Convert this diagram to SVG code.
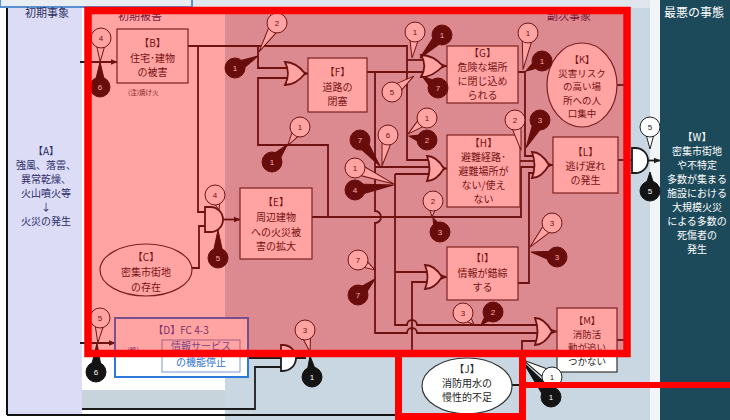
<svg xmlns="http://www.w3.org/2000/svg" width="730" height="420" viewBox="0 0 730 420">
<defs>
<marker id="ah" viewBox="0 0 10 10" refX="9" refY="5" markerWidth="4" markerHeight="4" orient="auto"><path d="M0,1L10,5L0,9Z" fill="#1c1c1c"/></marker>
<style>
.ln{fill:none;stroke:#1c1c1c;stroke-width:1.8}
.ar{marker-end:url(#ah)}
.bx{fill:#fff;stroke:#333;stroke-width:1.2}
.gt{fill:#fff;stroke:#1c1c1c;stroke-width:1.8}
.t{font-family:"Noto Sans CJK JP","Noto Sans CJK SC",sans-serif;font-size:10px;fill:#1e1e1e;text-anchor:middle}
.s{font-size:9.5px}
.na{fill:#2a2a66}
.hd{font-family:"Noto Sans CJK JP",sans-serif;font-size:11px;fill:#2c2c5c;text-anchor:middle}
.wt{font-family:"Noto Sans CJK JP",sans-serif;font-size:10px;fill:#ffffff;text-anchor:middle}
.wb path,.wb circle{fill:#fff;stroke:#222;stroke-width:1}
.bb path,.bb circle{fill:#141414;stroke:#141414;stroke-width:1}
.wb text,.bb text{font-family:"Liberation Sans",sans-serif;font-size:8px;text-anchor:middle;fill:#222}
.bb text{fill:#fff}
</style>
</defs>
<!-- background -->
<rect width="730" height="420" fill="#ffffff"/>
<rect x="192" y="0" width="468" height="8" fill="#dfe6ee"/>
<rect x="225" y="8" width="425" height="412" fill="#c8d7e1"/>
<rect x="82" y="390" width="143" height="18" fill="#c8d4dc"/>
<rect x="650" y="0" width="10" height="420" fill="#f2f5f8"/>
<rect x="660" y="0" width="70" height="420" fill="#1d4a5b"/>
<rect x="8" y="8" width="74" height="407" fill="#dcdcf7"/>
<line x1="7" y1="8" x2="7" y2="415" stroke="#111" stroke-width="2"/>
<line x1="7" y1="415" x2="398" y2="415" stroke="#111" stroke-width="2"/>
<rect x="0" y="-1" width="192" height="8" fill="#e9eef5" stroke="#5a8fd0" stroke-width="2"/>

<text class="hd" x="47" y="17">初期事象</text>
<text class="hd" x="140" y="20">初期被害</text>
<text class="hd" x="569" y="20">副次事象</text>
<text x="664" y="17" font-family="Noto Sans CJK JP,sans-serif" font-size="12" fill="#ffffff">最悪の事態</text>

<!-- connectors -->
<g id="connectors">
<path class="ln ar" d="M80,62H117"/>
<path class="ln ar" d="M80,343H115"/>
<path class="ln" d="M82,409H255V367H283"/>
<path class="ln" d="M248,358H283"/>
<path class="ln" d="M296,358H305V353H412V282H428"/>
<path class="ln" d="M188,46H407V160H430"/>
<path class="ln" d="M198,46V212H207"/>
<path class="ln" d="M258,46V68H288"/>
<path class="ln" d="M407,60H424"/>
<path class="ln" d="M192,268H199V226H207"/>
<path class="ln ar" d="M223,219.5H240"/>
<path class="ln" d="M312,217H521V167H535"/>
<path class="ln" d="M328,217V145H258V78H288"/>
<path class="ln ar" d="M303,73.5H308"/>
<path class="ln" d="M367,72H424"/>
<path class="ln" d="M375,72V211A6,6 0 0 1 375,223V333H407A5,5 0 0 1 417,333H538"/>
<path class="ln" d="M375,167H430"/>
<path class="ln" d="M395,174V325H407A5,5 0 0 1 417,325H538"/>
<path class="ln" d="M395,174H430"/>
<path class="ln" d="M395,272H428"/>
<path class="ln" d="M518,72H525V156H535"/>
<path class="ln" d="M520,161H535"/>
<path class="ln" d="M518,283H529V173H535"/>
<path class="ln ar" d="M441,66H447"/>
<path class="ln ar" d="M442,168.5H447"/>
<path class="ln ar" d="M441,277H447"/>
<path class="ln ar" d="M547,165H553"/>
<path class="ln ar" d="M550,331.5H557"/>
<path class="ln" d="M512,385H522V341H538"/>
<path class="ln" d="M617,85H628"/>
<path class="ln" d="M618,160H634"/>
<path class="ln ar" d="M646,160.5H660"/>
<path class="ln" d="M617,340H628"/>
</g>

<!-- gates -->
<g id="gate-F"><path class="gt" d="M285,62Q296,62 305,73.5Q296,85 285,85Q291,73.5 285,62Z"/></g>
<g id="gate-G"><path class="gt" d="M421,55Q433,55 443,66Q433,77 421,77Q427.6,66 421,55Z"/></g>
<g id="gate-H"><path class="gt" d="M427,156Q436.4,156 444,168.5Q436.4,181 427,181Q432,168.5 427,156Z"/></g>
<g id="gate-L"><path class="gt" d="M532,152Q541.4,152 549,165Q541.4,178 532,178Q537,165 532,152Z"/></g>
<g id="gate-I"><path class="gt" d="M425,265Q434.4,265 442,277Q434.4,289 425,289Q430,277 425,265Z"/></g>
<g id="gate-M"><path class="gt" d="M535,318Q544.4,318 552,331.5Q544.4,345 535,345Q540,331.5 535,318Z"/></g>
<g id="gate-E"><path class="gt" d="M205,207H210.5A12.5,12.5 0 0 1 210.5,232H205Z"/></g>
<g id="gate-W"><path class="gt" d="M632,148H635.5A12.5,12.5 0 0 1 635.5,173H632Z"/></g>
<g id="gate-D"><path class="gt" d="M281,345H283A13,13 0 0 1 283,371H281Z"/></g>

<!-- nodes -->
<g id="node-A">
<text class="t na" x="46" y="155">【A】</text>
<text class="t na" x="46" y="169">強風、落雷、</text>
<text class="t na" x="46" y="183">異常乾燥、</text>
<text class="t na" x="46" y="197">火山噴火等</text>
<text class="t na" x="46" y="211">↓</text>
<text class="t na" x="46" y="225">火災の発生</text>
</g>
<g id="node-B">
<rect class="bx" x="117" y="29" width="71" height="54"/>
<text class="t" x="152.5" y="47">【B】</text>
<text class="t" x="152.5" y="62">住宅･建物</text>
<text class="t" x="152.5" y="76">の被害</text>
<text x="128" y="95" font-family="Noto Sans CJK JP,sans-serif" font-size="6.5" fill="#333">(注)焼け火</text>
</g>
<g id="node-C">
<ellipse cx="146" cy="270" rx="46" ry="26" fill="#fff" stroke="#333" stroke-width="1.2"/>
<text class="t" x="146" y="261">【C】</text>
<text class="t" x="146" y="276">密集市街地</text>
<text class="t" x="146" y="291">の存在</text>
</g>
<g id="node-D">
<rect x="115" y="318" width="133" height="59" fill="#fff" stroke="#2f7ad8" stroke-width="2"/>
<text x="181" y="334" font-family="Noto Sans CJK JP,sans-serif" font-size="10" fill="#3050a8" text-anchor="middle">【D】FC 4-3</text>
<text x="133" y="353" font-family="Noto Sans CJK JP,sans-serif" font-size="7" fill="#3050a8" text-anchor="middle">(略)</text>
<rect x="162" y="340" width="78" height="32" fill="#fff" stroke="#7a98d0" stroke-width="1"/>
<text x="201" y="350" font-family="Noto Sans CJK JP,sans-serif" font-size="10" fill="#2f6fd0" text-anchor="middle">情報サービス</text>
<text x="201" y="366" font-family="Noto Sans CJK JP,sans-serif" font-size="10" fill="#2f6fd0" text-anchor="middle">の機能停止</text>
</g>
<g id="node-E">
<rect class="bx" x="240" y="188" width="72" height="71"/>
<text class="t" x="276" y="206">【E】</text>
<text class="t" x="276" y="221">周辺建物</text>
<text class="t" x="276" y="235.5">への火災被</text>
<text class="t" x="276" y="250">害の拡大</text>
</g>
<g id="node-F">
<rect class="bx" x="308" y="58" width="59" height="54"/>
<text class="t" x="337.5" y="76">【F】</text>
<text class="t" x="337.5" y="91">道路の</text>
<text class="t" x="337.5" y="105">閉塞</text>
</g>
<g id="node-G">
<rect class="bx" x="447" y="46" width="71" height="57"/>
<text class="t" x="482.5" y="57">【G】</text>
<text class="t" x="482.5" y="71">危険な場所</text>
<text class="t" x="482.5" y="85">に閉じ込め</text>
<text class="t" x="482.5" y="99">られる</text>
</g>
<g id="node-H">
<rect class="bx" x="447" y="135" width="73" height="72"/>
<text class="t" x="483.5" y="147">【H】</text>
<text class="t" x="483.5" y="161">避難経路･</text>
<text class="t" x="483.5" y="175">避難場所が</text>
<text class="t" x="483.5" y="189">ない/使え</text>
<text class="t" x="483.5" y="203">ない</text>
</g>
<g id="node-I">
<rect class="bx" x="447" y="247" width="71" height="53"/>
<text class="t" x="482.5" y="262">【I】</text>
<text class="t" x="482.5" y="276.5">情報が錯綜</text>
<text class="t" x="482.5" y="291">する</text>
</g>
<g id="node-J">
<ellipse cx="467" cy="386" rx="45" ry="28" fill="#fff" stroke="#333" stroke-width="1.2"/>
<text class="t" x="467" y="373">【J】</text>
<text class="t" x="467" y="387">消防用水の</text>
<text class="t" x="467" y="401">慢性的不足</text>
</g>
<g id="node-K">
<ellipse cx="582" cy="85" rx="35" ry="42" fill="#fff" stroke="#333" stroke-width="1.2"/>
<text class="t s" x="582" y="63">【K】</text>
<text class="t s" x="582" y="76.5">災害リスク</text>
<text class="t s" x="582" y="90">の高い場</text>
<text class="t s" x="582" y="103.5">所への人</text>
<text class="t s" x="582" y="117">口集中</text>
</g>
<g id="node-L">
<rect class="bx" x="553" y="137" width="65" height="56"/>
<text class="t" x="585.5" y="156">【L】</text>
<text class="t" x="585.5" y="170">逃げ遅れ</text>
<text class="t" x="585.5" y="184">の発生</text>
</g>
<g id="node-M">
<rect class="bx" x="557" y="308" width="60" height="64"/>
<text class="t s" x="587" y="324">【M】</text>
<text class="t s" x="587" y="337.5">消防活</text>
<text class="t s" x="587" y="351">動が追い</text>
<text class="t s" x="587" y="364.5">つかない</text>
</g>
<g id="node-W">
<text class="wt" x="697" y="141">【W】</text>
<text class="wt" x="697" y="155">密集市街地</text>
<text class="wt" x="697" y="169">や不特定</text>
<text class="wt" x="697" y="183">多数が集まる</text>
<text class="wt" x="697" y="197">施設における</text>
<text class="wt" x="697" y="211">大規模火災</text>
<text class="wt" x="697" y="225">による多数の</text>
<text class="wt" x="697" y="239">死傷者の</text>
<text class="wt" x="697" y="253">発生</text>
</g>

<!-- balloons -->
<g id="balloons">
<g class="wb" transform="translate(101,38)"><path transform="rotate(92)" d="M0,-6L24,0L0,6Z"/><circle r="10"/><text y="3">4</text></g>
<g class="bb" transform="translate(100,87)"><path transform="rotate(-90)" d="M0,-6L25,0L0,6Z"/><circle r="10"/><text y="3">6</text></g>
<g class="wb" transform="translate(100,318)"><path transform="rotate(95)" d="M0,-6L25,0L0,6Z"/><circle r="10"/><text y="3">5</text></g>
<g class="bb" transform="translate(96,372)"><path transform="rotate(-88)" d="M0,-6L29,0L0,6Z"/><circle r="10"/><text y="3">6</text></g>
<g class="bb" transform="translate(235,68)"><path transform="rotate(-27.5)" d="M0,-6L26,0L0,6Z"/><circle r="10"/><text y="3">1</text></g>
<g class="wb" transform="translate(277,23)"><path transform="rotate(122)" d="M0,-6L34,0L0,6Z"/><circle r="10"/><text y="3">2</text></g>
<g class="wb" transform="translate(415,32)"><path transform="rotate(96.6)" d="M0,-6L26,0L0,6Z"/><circle r="10"/><text y="3">1</text></g>
<g class="bb" transform="translate(442,35)"><path transform="rotate(133.7)" d="M0,-6L32,0L0,6Z"/><circle r="10"/><text y="3">1</text></g>
<g class="wb" transform="translate(392,92)"><path transform="rotate(-36)" d="M0,-6L27,0L0,6Z"/><circle r="10"/><text y="3">5</text></g>
<g class="bb" transform="translate(438,88)"><path transform="rotate(-143)" d="M0,-6L20,0L0,6Z"/><circle r="10"/><text y="3">7</text></g>
<g class="wb" transform="translate(528,33)"><path transform="rotate(97.7)" d="M0,-6L37,0L0,6Z"/><circle r="10"/><text y="3">1</text></g>
<g class="bb" transform="translate(542,61)"><path transform="rotate(148)" d="M0,-6L19,0L0,6Z"/><circle r="10"/><text y="3">1</text></g>
<g class="wb" transform="translate(515,120)"><path transform="rotate(78.7)" d="M0,-6L31,0L0,6Z"/><circle r="10"/><text y="3">2</text></g>
<g class="bb" transform="translate(540,120)"><path transform="rotate(116.6)" d="M0,-6L31,0L0,6Z"/><circle r="10"/><text y="3">3</text></g>
<g class="wb" transform="translate(650,127)"><path transform="rotate(90)" d="M0,-6L22,0L0,6Z"/><circle r="10"/><text y="3">5</text></g>
<g class="bb" transform="translate(650,191)"><path transform="rotate(-90)" d="M0,-6L19,0L0,6Z"/><circle r="10"/><text y="3">5</text></g>
<g class="wb" transform="translate(300,127)"><path transform="rotate(123.7)" d="M0,-6L22,0L0,6Z"/><circle r="10"/><text y="3">1</text></g>
<g class="bb" transform="translate(272,162)"><path transform="rotate(-48.6)" d="M0,-6L23,0L0,6Z"/><circle r="10"/><text y="3">1</text></g>
<g class="wb" transform="translate(427,118)"><path transform="rotate(139.9)" d="M0,-6L25,0L0,6Z"/><circle r="10"/><text y="3">1</text></g>
<g class="bb" transform="translate(427,140)"><path transform="rotate(-167.5)" d="M0,-6L18.4,0L0,6Z"/><circle r="10"/><text y="3">2</text></g>
<g class="bb" transform="translate(360,140)"><path transform="rotate(52.4)" d="M0,-6L33,0L0,6Z"/><circle r="10"/><text y="3">7</text></g>
<g class="wb" transform="translate(388,135)"><path transform="rotate(101)" d="M0,-6L31.6,0L0,6Z"/><circle r="10"/><text y="3">6</text></g>
<g class="wb" transform="translate(355,168)"><path transform="rotate(22.3)" d="M0,-6L42,0L0,6Z"/><circle r="10"/><text y="3">1</text></g>
<g class="bb" transform="translate(355,190)"><path transform="rotate(-7.3)" d="M0,-6L39,0L0,6Z"/><circle r="10"/><text y="3">4</text></g>
<g class="wb" transform="translate(433,201)"><path transform="rotate(93.6)" d="M0,-6L16,0L0,6Z"/><circle r="10"/><text y="3">2</text></g>
<g class="bb" transform="translate(440,232)"><path transform="rotate(-116.6)" d="M0,-6L15.7,0L0,6Z"/><circle r="10"/><text y="3">3</text></g>
<g class="wb" transform="translate(215,195)"><path transform="rotate(75)" d="M0,-6L15.5,0L0,6Z"/><circle r="10"/><text y="3">4</text></g>
<g class="bb" transform="translate(218,258)"><path transform="rotate(-90)" d="M0,-6L28,0L0,6Z"/><circle r="10"/><text y="3">5</text></g>
<g class="wb" transform="translate(552,223)"><path transform="rotate(132.5)" d="M0,-6L32.6,0L0,6Z"/><circle r="10"/><text y="3">3</text></g>
<g class="bb" transform="translate(557,257)"><path transform="rotate(-169)" d="M0,-6L26.5,0L0,6Z"/><circle r="10"/><text y="3">3</text></g>
<g class="wb" transform="translate(358,260)"><path transform="rotate(30.5)" d="M0,-6L19.7,0L0,6Z"/><circle r="10"/><text y="3">7</text></g>
<g class="bb" transform="translate(358,295)"><path transform="rotate(-43.3)" d="M0,-6L23.3,0L0,6Z"/><circle r="10"/><text y="3">7</text></g>
<g class="wb" transform="translate(463,313)"><path transform="rotate(47.5)" d="M0,-6L16.3,0L0,6Z"/><circle r="10"/><text y="3">3</text></g>
<g class="bb" transform="translate(493,312)"><path transform="rotate(132.7)" d="M0,-6L17.7,0L0,6Z"/><circle r="10"/><text y="3">2</text></g>
<g class="wb" transform="translate(305,330)"><path transform="rotate(77.2)" d="M0,-6L22.6,0L0,6Z"/><circle r="10"/><text y="3">3</text></g>
<g class="bb" transform="translate(312,377)"><path transform="rotate(-95.4)" d="M0,-6L21.1,0L0,6Z"/><circle r="10"/><text y="3">1</text></g>
<g class="wb" transform="translate(552,377)"><path transform="rotate(-149.6)" d="M0,-6L33.6,0L0,6Z"/><circle r="10"/><text y="3">1</text></g>
<g class="bb" transform="translate(551,397)"><path transform="rotate(-128.7)" d="M0,-6L44.8,0L0,6Z"/><circle r="10"/><text y="3">1</text></g>
</g>

<!-- highlight overlays -->
<rect x="88" y="10.5" width="539" height="343" fill="#ff0000" fill-opacity="0.36" stroke="#ff0000" stroke-width="7.5"/>
<rect x="398.5" y="353.5" width="124" height="63" fill="none" stroke="#ff0000" stroke-width="7"/>
<line x1="522" y1="385" x2="730" y2="385" stroke="#ff0000" stroke-width="6"/>
</svg>
